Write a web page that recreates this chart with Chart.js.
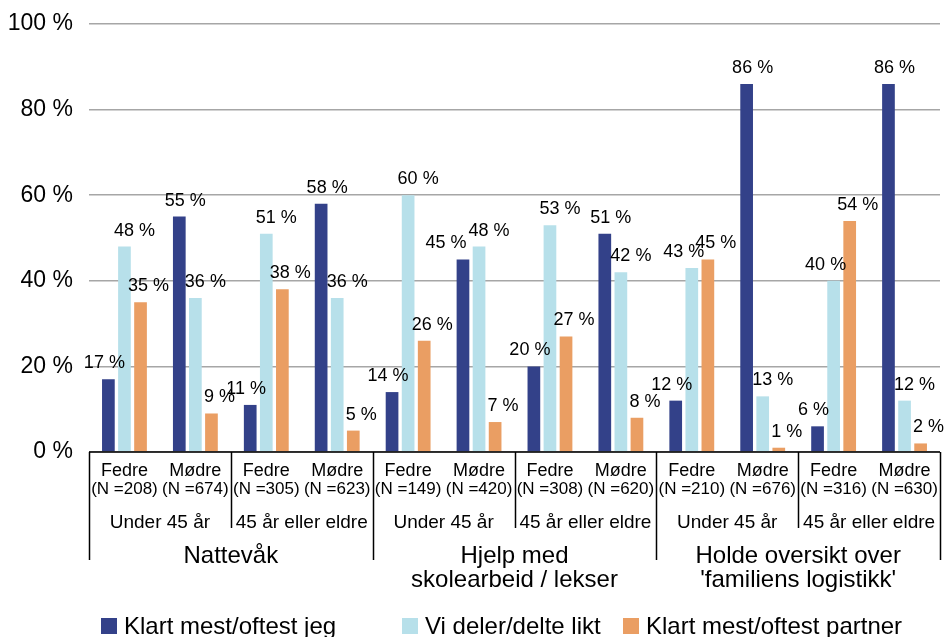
<!DOCTYPE html>
<html lang="no">
<head>
<meta charset="utf-8">
<title>Hvem gjør hva i familien</title>
<script src="https://cdn.jsdelivr.net/npm/chart.js@4/dist/chart.umd.min.js"></script>
<style>
  html, body { margin: 0; padding: 0; background: #ffffff; }
  #wrap { width: 944px; height: 637px; }
</style>
</head>
<body>
<div id="wrap"><canvas id="chart" width="944" height="637"></canvas></div>
<script>
// Tasks (outer axis level), age groups (middle level) and parents (inner level)
const tasks = ["Nattevåk", ["Hjelp med", "skolearbeid / lekser"], ["Holde oversikt over", "'familiens logistikk'"]];
const ageGroups = ["Under 45 år", "45 år eller eldre"];
const parents = ["Fedre", "Mødre"];
const respondents = [208, 674, 305, 623, 149, 420, 308, 620, 210, 676, 316, 630];

// Share (%) answering each alternative, one value per column
const seriesNames = ["Klart mest/oftest jeg", "Vi deler/delte likt", "Klart mest/oftest partner"];
const mostlyMe      = [17, 55, 11, 58, 14, 45, 20, 51, 12, 86, 6, 86];
const sharedEqually = [48, 36, 51, 36, 60, 48, 53, 42, 43, 13, 40, 12];
const mostlyPartner = [35, 9, 38, 5, 26, 7, 27, 8, 45, 1, 54, 2];

const yTicks = [0, 20, 40, 60, 80, 100];

const colors = ["#334189", "#b7e0ea", "#ea9e63"];
const FONT = "'Liberation Sans', Arial, Helvetica, sans-serif";

// Column labels: one per parent/age/task combination
const columnLabels = [];
tasks.forEach(() => ageGroups.forEach(() => parents.forEach(p => columnLabels.push(p))));

// Value labels above each bar, nudged sideways so neighbours do not collide
const valueLabels = {
  id: "valueLabels",
  afterDatasetsDraw(chart) {
    const ctx = chart.ctx;
    ctx.save();
    ctx.font = "18px " + FONT;
    ctx.fillStyle = "#000";
    ctx.textAlign = "center";
    ctx.textBaseline = "alphabetic";
    const metas = [0, 1, 2].map(i => chart.getDatasetMeta(i));
    const n = columnLabels.length;
    for (let c = 0; c < n; c++) {
      const v = [mostlyMe[c], sharedEqually[c], mostlyPartner[c]];
      const boxes = metas.map((m, s) => {
        const bar = m.data[c];
        let dx;
        if (s === 0) dx = v[1] > v[0] ? -4 : 6;
        else if (s === 1) dx = v[2] > v[1] ? -8 : 10;
        else dx = 8;
        const text = v[s] + " %";
        const w = ctx.measureText(text).width;
        return { text, x: bar.x + dx, y: bar.y - 11, w };
      });
      // keep the first label clear of the second one when they share a height
      const a = boxes[0], b = boxes[1];
      const overlapX = (a.x + a.w / 2) - (b.x - b.w / 2);
      if (overlapX > 0 && Math.abs(a.y - b.y) < 16) a.x -= overlapX + 2;
      boxes.forEach(bx => ctx.fillText(bx.text, bx.x, bx.y));
    }
    ctx.restore();
  }
};

// Three-level category axis below the plot, with bracket lines
const groupedAxis = {
  id: "groupedAxis",
  afterDraw(chart) {
    const ctx = chart.ctx;
    const area = chart.chartArea;
    const xs = chart.scales.x;
    const n = columnLabels.length;
    const edge = i => {
      if (i <= 0) return area.left;
      if (i >= n) return area.right;
      return (xs.getPixelForValue(i - 1) + xs.getPixelForValue(i)) / 2;
    };
    const base = area.bottom;
    ctx.save();
    ctx.strokeStyle = "#000";
    ctx.lineWidth = 1.5;
    ctx.beginPath();
    ctx.moveTo(area.left, base);
    ctx.lineTo(area.right, base);
    const perTask = ageGroups.length * parents.length;
    for (let i = 0; i <= n; i += parents.length) {
      const x = Math.round(edge(i)) + 0.5;
      const long = i % perTask === 0;
      ctx.moveTo(x, base);
      ctx.lineTo(x, base + (long ? 108 : 76));
    }
    ctx.stroke();

    ctx.fillStyle = "#000";
    ctx.textAlign = "center";
    ctx.textBaseline = "alphabetic";
    // parent + respondents
    for (let i = 0; i < n; i++) {
      const cx = xs.getPixelForValue(i);
      ctx.font = "18px " + FONT;
      ctx.fillText(columnLabels[i], cx, base + 24);
      ctx.font = "17px " + FONT;
      ctx.fillText("(N =" + respondents[i] + ")", cx, base + 42);
    }
    // age groups
    ctx.font = "19px " + FONT;
    for (let g = 0; g < n / parents.length; g++) {
      const cx = (edge(g * parents.length) + edge((g + 1) * parents.length)) / 2;
      ctx.fillText(ageGroups[g % ageGroups.length], cx, base + 76);
    }
    // tasks
    ctx.font = "24px " + FONT;
    tasks.forEach((t, k) => {
      const cx = (edge(k * perTask) + edge((k + 1) * perTask)) / 2;
      const lines = Array.isArray(t) ? t : [t];
      lines.forEach((line, j) => ctx.fillText(line, cx, base + 111 + j * 24));
    });
    ctx.restore();
  }
};

// Legend row along the bottom edge
const bottomLegend = {
  id: "bottomLegend",
  afterDraw(chart) {
    const ctx = chart.ctx;
    const starts = [101, 402, 623];
    ctx.save();
    ctx.font = "24px " + FONT;
    ctx.textAlign = "left";
    ctx.textBaseline = "alphabetic";
    seriesNames.forEach((name, i) => {
      ctx.fillStyle = colors[i];
      ctx.fillRect(starts[i], 618, 16, 16);
      ctx.fillStyle = "#000";
      ctx.fillText(name, starts[i] + 23, 634);
    });
    ctx.restore();
  }
};

new Chart(document.getElementById("chart"), {
  type: "bar",
  data: {
    labels: columnLabels,
    datasets: [mostlyMe, sharedEqually, mostlyPartner].map((values, i) => ({
      label: seriesNames[i],
      data: values,
      backgroundColor: colors[i],
      borderWidth: 0,
      categoryPercentage: 0.68,
      barPercentage: 0.79
    }))
  },
  options: {
    responsive: false,
    animation: false,
    layout: { padding: { left: 0, right: 4, top: 24, bottom: 185 } },
    plugins: {
      legend: { display: false },
      tooltip: { enabled: false }
    },
    scales: {
      x: { display: false },
      y: {
        min: 0,
        max: 100,
        afterBuildTicks(scale) { scale.ticks = yTicks.map(v => ({ value: v })); },
        afterFit(scale) {
          scale.width = 89;
          scale.paddingTop = 0;
          scale.paddingBottom = 0;
        },
        border: { display: false },
        grid: { color: "#a6a6a6", lineWidth: 1.5, drawTicks: false },
        ticks: {
          padding: 16,
          color: "#000",
          font: { family: FONT, size: 23 },
          callback: v => v + " %"
        }
      }
    }
  },
  plugins: [valueLabels, groupedAxis, bottomLegend]
});
</script>
</body>
</html>
